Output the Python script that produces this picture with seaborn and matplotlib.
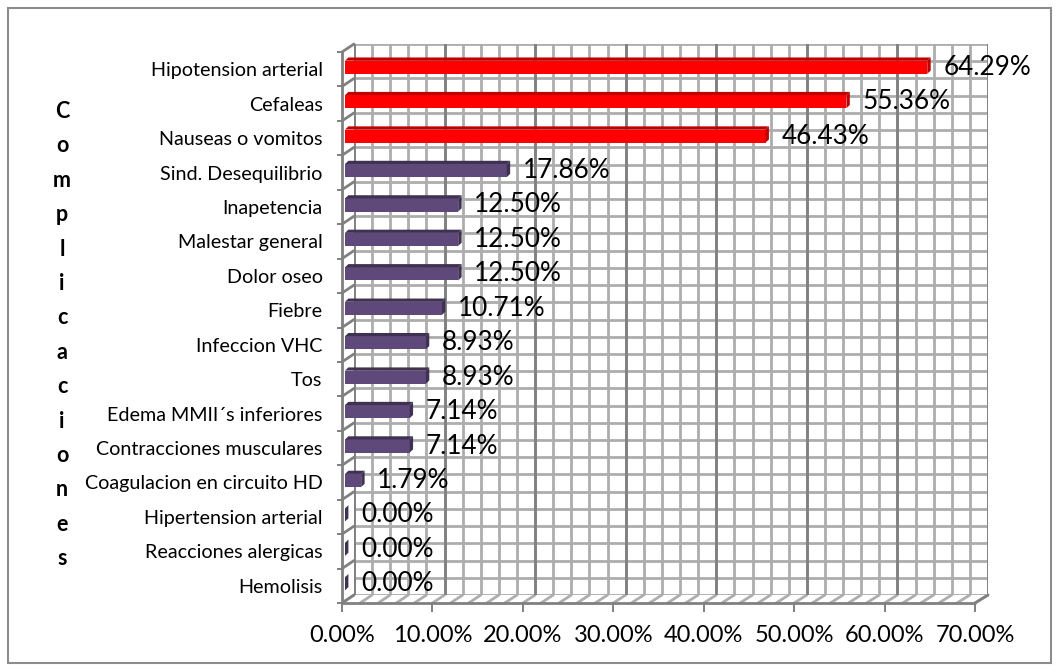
import numpy as np
import matplotlib
matplotlib.use("Agg")
import matplotlib.pyplot as plt
from matplotlib.patches import Polygon, Rectangle
from matplotlib.lines import Line2D
import seaborn as sns

# ---- data -------------------------------------------------------------
categorias = [
    "Hipotension arterial", "Cefaleas", "Nauseas o vomitos", "Sind. Desequilibrio",
    "Inapetencia", "Malestar general", "Dolor oseo", "Fiebre", "Infeccion VHC", "Tos",
    "Edema MMII´s inferiores", "Contracciones musculares", "Coagulacion en circuito HD",
    "Hipertension arterial", "Reacciones alergicas", "Hemolisis",
]
porcentajes = [64.29, 55.36, 46.43, 17.86, 12.50, 12.50, 12.50, 10.71,
               8.93, 8.93, 7.14, 7.14, 1.79, 0.00, 0.00, 0.00]
destacadas = [True, True, True] + [False] * 13
ticks_x = [0, 10, 20, 30, 40, 50, 60, 70]
titulo_eje = "Complicaciones"

# ---- style ------------------------------------------------------------
W, H = 1059, 670
sns.set_theme(style="white")
plt.rcParams["font.family"] = ["Lato", "DejaVu Sans"]

ROJO, ROJO_OSC = "#FF0000", "#C00000"
MORADO, MORADO_OSC = "#5F497A", "#3F3151"
GRIS_MAY, GRIS_MEN = "#808080", "#ADADAD"

fig = plt.figure(figsize=(W / 100, H / 100), dpi=100)


def caja(x0, y0, x1, y1):
    """pixel box (origin top-left) -> figure-fraction rect"""
    return [x0 / W, 1 - y1 / H, (x1 - x0) / W, (y1 - y0) / H]


def px(x, y):
    return x / W, 1 - y / H


n = len(categorias)
XMAX = ticks_x[-1]

# geometry of the 3-D box (pixels)
FX0, FX1, FY0, FY1 = 342, 975, 52, 603      # front plane
BX0, BX1, BY0, BY1 = 354, 988, 44, 595      # back wall
banda_f = (FY1 - FY0) / n
banda_b = (BY1 - BY0) / n

# ---- back wall with grid ---------------------------------------------
wall = fig.add_axes(caja(BX0, BY0, BX1, BY1), zorder=0)
wall.set_facecolor("none")
wall.set_xlim(0, XMAX)
wall.set_ylim(n, 0)
for t in np.arange(0, n + 0.01, 0.5):
    wall.axhline(t, color=GRIS_MEN, lw=2.0, zorder=1)
for t in np.arange(0, XMAX + 0.01, 2):
    wall.axvline(t, color=GRIS_MEN, lw=2.0, zorder=1)
for t in ticks_x:
    wall.axvline(t, color=GRIS_MAY, lw=2.0, zorder=2)
for s in wall.spines.values():
    s.set_visible(False)
wall.set_xticks([])
wall.set_yticks([])

# ---- floor and left wall (perspective lines) -------------------------
lineas = []
for t in np.arange(0, XMAX + 0.01, 2):
    fx = FX0 + t * (FX1 - FX0) / XMAX
    bx = BX0 + t * (BX1 - BX0) / XMAX
    lineas.append(((fx, FY1), (bx, BY1), GRIS_MEN))
for k in range(n + 1):
    lineas.append(((FX0, FY0 + k * banda_f), (BX0, BY0 + k * banda_b), GRIS_MAY))
lineas.append(((FX0, FY0), (FX0, FY1), GRIS_MAY))
lineas.append(((FX0, FY1), (FX1, FY1), GRIS_MAY))
lineas.append(((FX1, FY1), (BX1, BY1), GRIS_MAY))
for (x0, y0), (x1, y1), c in lineas:
    a, b = px(x0, y0), px(x1, y1)
    fig.add_artist(Line2D([a[0], b[0]], [a[1], b[1]], transform=fig.transFigure,
                          color=c, lw=2.0, zorder=-1))

# ---- front axes: category labels and value ticks ---------------------
ax = fig.add_axes(caja(FX0, FY0, FX1, FY1), zorder=1)
ax.set_facecolor("none")
ax.set_xlim(0, XMAX)
ax.set_ylim(n - 0.5, -0.5)
for s in ax.spines.values():
    s.set_visible(False)
ax.set_xticks(ticks_x)
ax.set_xticklabels([f"{t:.2f}%" for t in ticks_x], fontsize=17, color="#000000")
ax.tick_params(axis="x", bottom=True, length=6.5, width=1.4, color=GRIS_MAY, pad=9)
ax.set_yticks(range(n))
ax.set_yticklabels(categorias, fontsize=14.2, color="#000000")
ax.set_yticks(np.arange(-0.5, n, 1), minor=True)
ax.tick_params(axis="y", which="major", left=False, length=0, pad=14)
ax.tick_params(axis="y", which="minor", left=True, length=3.6, width=1.4, color=GRIS_MAY)
ax.grid(False)

# ---- bars (mid depth) ------------------------------------------------
axb = fig.add_axes(caja(345, 50, 979, 601), zorder=2)
paleta = {c: (ROJO if d else MORADO) for c, d in zip(categorias, destacadas)}
sns.barplot(x=porcentajes, y=categorias, hue=categorias, palette=paleta,
            legend=False, orient="h", width=0.38, errorbar=None,
            saturation=1, linewidth=0, ax=axb)
axb.set_xlim(0, XMAX)
axb.set_ylim(n - 0.5, -0.5)
axb.axis("off")
axb.set_facecolor("none")

dxd = 3.4 * XMAX / (979 - 345)
dyd = 3.2 / ((601 - 50) / n)
oscuro = {ROJO: ROJO_OSC, MORADO: MORADO_OSC}
for p in list(axb.patches):
    x, y, w, h = p.get_x(), p.get_y(), p.get_width(), p.get_height()
    base = ROJO if p.get_facecolor()[1] < 0.1 else MORADO
    osc = oscuro[base]
    top = Polygon([(x, y), (x + w, y), (x + w + dxd, y - dyd), (x + dxd, y - dyd)],
                  closed=True, fc=osc, ec="none", zorder=3)
    side = Polygon([(x + w, y), (x + w + dxd, y - dyd), (x + w + dxd, y + h - dyd),
                    (x + w, y + h)], closed=True, fc=osc, ec="none", zorder=3)
    axb.add_patch(top)
    axb.add_patch(side)

for cont in axb.containers:
    axb.bar_label(cont, fmt="%.2f%%", padding=11.5, fontsize=18.8, color="#000000")

# ---- vertical axis title, one letter per line ------------------------
for k, ch in enumerate(titulo_eje):
    x, y = px(62, 118 + k * 34.4)
    fig.text(x, y, ch, ha="center", va="baseline", fontsize=15.5, fontweight="bold",
             color="#000000")

# ---- chart border ----------------------------------------------------
x0, y1 = px(8, 663)
fig.add_artist(Rectangle((x0, y1), (1051 - 8) / W, (663 - 8) / H,
                         transform=fig.transFigure, fill=False,
                         ec="#8C8C8C", lw=1.5))

fig.savefig("out.png", dpi=100, facecolor="white")
